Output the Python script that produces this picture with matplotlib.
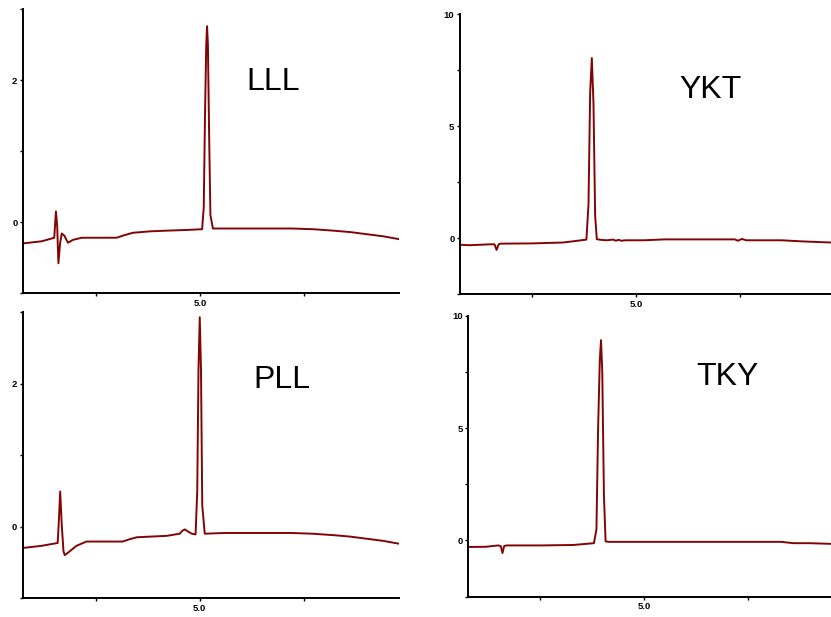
import matplotlib
matplotlib.use("Agg")
import matplotlib.pyplot as plt
from matplotlib.ticker import FixedLocator, FixedFormatter

# Retention time (min) and detector signal for each chromatogram
lll_t = [0.75, 1.20, 1.44, 1.50, 1.54, 1.57, 1.60, 1.64, 1.68, 1.74, 1.83, 1.95,
         2.16, 3.00, 3.15, 3.39, 3.80, 4.21, 4.70, 5.05, 5.09, 5.12, 5.15, 5.17,
         5.19, 5.22, 5.25, 5.31, 5.80, 6.50, 7.20, 7.72, 8.20, 8.60, 9.00, 9.40, 9.78]
lll_y = [-0.30, -0.27, -0.23, -0.22, 0.15, -0.05, -0.58, -0.30, -0.16, -0.19, -0.29, -0.25,
         -0.22, -0.22, -0.19, -0.15, -0.13, -0.12, -0.11, -0.10, 0.20, 1.50, 2.50, 2.76,
         2.50, 1.20, 0.10, -0.09, -0.09, -0.09, -0.09, -0.10, -0.12, -0.14, -0.17, -0.20, -0.24]

pll_t = [0.75, 1.20, 1.59, 1.62, 1.65, 1.69, 1.73, 1.76, 1.85, 2.04, 2.28, 3.15,
         3.30, 3.49, 4.21, 4.52, 4.58, 4.64, 4.72, 4.81, 4.90, 4.94, 4.97, 5.00,
         5.03, 5.06, 5.12, 5.60, 6.50, 7.20, 7.70, 8.20, 8.60, 9.00, 9.40, 9.78]
pll_y = [-0.30, -0.27, -0.23, 0.10, 0.49, 0.00, -0.35, -0.40, -0.36, -0.27, -0.21, -0.21,
         -0.18, -0.15, -0.13, -0.10, -0.06, -0.04, -0.07, -0.10, -0.11, 0.50, 2.20, 2.93,
         2.20, 0.30, -0.10, -0.09, -0.09, -0.09, -0.10, -0.12, -0.14, -0.17, -0.20, -0.24]

ykt_t = [0.77, 1.00, 1.50, 1.60, 1.65, 1.70, 1.75, 2.50, 3.25, 3.60, 3.81, 3.86,
         3.90, 3.94, 3.98, 4.02, 4.06, 4.15, 4.30, 4.45, 4.52, 4.58, 4.65, 4.75,
         5.20, 5.70, 6.50, 7.38, 7.45, 7.55, 7.65, 8.50, 9.00, 9.69]
ykt_y = [-0.30, -0.32, -0.28, -0.28, -0.53, -0.28, -0.25, -0.24, -0.20, -0.12, -0.07, 1.50,
         6.50, 8.04, 6.00, 1.00, -0.05, -0.08, -0.10, -0.07, -0.12, -0.08, -0.12, -0.10,
         -0.10, -0.06, -0.06, -0.06, -0.12, -0.04, -0.10, -0.10, -0.15, -0.20]

tky_t = [0.78, 1.20, 1.50, 1.56, 1.60, 1.64, 1.70, 2.50, 3.30, 3.80, 3.86, 3.90,
         3.94, 3.97, 4.00, 4.04, 4.08, 4.15, 5.00, 6.00, 7.00, 8.30, 8.60, 9.00, 9.50]
tky_y = [-0.29, -0.28, -0.22, -0.25, -0.56, -0.25, -0.22, -0.22, -0.20, -0.12, 0.50, 5.00,
         8.00, 8.92, 7.50, 2.00, -0.04, -0.06, -0.06, -0.06, -0.06, -0.06, -0.12, -0.12, -0.15]

names = ["LLL", "YKT", "PLL", "TKY"]

x_ticks = [2.5, 5.0, 7.5]
x_labels = ["", "5.0", ""]
small_ticks = [-1, 0, 1, 2, 3]
small_labels = ["", "0", "", "2", ""]
big_ticks = [-2.5, 0, 2.5, 5, 7.5, 10]
big_labels = ["", "0", "", "5", "", "10"]

LINE = "#820505"
plt.rcParams["font.family"] = ["Liberation Sans", "DejaVu Sans"]

fig = plt.figure(figsize=(8.31, 6.17), dpi=100)

panels = [
    # rect, t, y, xlim, ylim, yticks, ylabels, name, label position (fig px)
    ([0.0277, 0.525, 0.4525, 0.460], lll_t, lll_y, (0.75, 9.78), (-1, 3),
     small_ticks, small_labels, names[0], (273, 82)),
    ([0.5535, 0.5235, 0.4465, 0.4535], ykt_t, ykt_y, (0.77, 9.69), (-2.5, 10),
     big_ticks, big_labels, names[1], (710, 90)),
    ([0.0273, 0.0308, 0.4527, 0.4632], pll_t, pll_y, (0.75, 9.78), (-1, 3),
     small_ticks, small_labels, names[2], (282, 380)),
    ([0.5636, 0.033, 0.4364, 0.455], tky_t, tky_y, (0.78, 9.50), (-2.5, 10),
     big_ticks, big_labels, names[3], (727, 377)),
]

for rect, t, y, xl, yl, yt, ylab, name, (px, py) in panels:
    ax = fig.add_axes(rect)
    ax.plot(t, y, color=LINE, lw=1.4, solid_joinstyle="round")
    ax.set_xlim(*xl)
    ax.set_ylim(*yl)
    for s in ("top", "right"):
        ax.spines[s].set_visible(False)
    for s in ("left", "bottom"):
        ax.spines[s].set_linewidth(1.4)
    ax.xaxis.set_major_locator(FixedLocator(x_ticks))
    ax.xaxis.set_major_formatter(FixedFormatter(x_labels))
    ax.yaxis.set_major_locator(FixedLocator(yt))
    ax.yaxis.set_major_formatter(FixedFormatter(ylab))
    ax.tick_params(direction="out", length=2.5, width=1.0, labelsize=6.8, pad=1.5)
    for lab in ax.get_xticklabels() + ax.get_yticklabels():
        lab.set_fontweight("bold")
    fig.text(px / 831, 1 - py / 617, name, fontsize=23, ha="center", va="center",
             color="black")

fig.savefig("out.png", dpi=100)
